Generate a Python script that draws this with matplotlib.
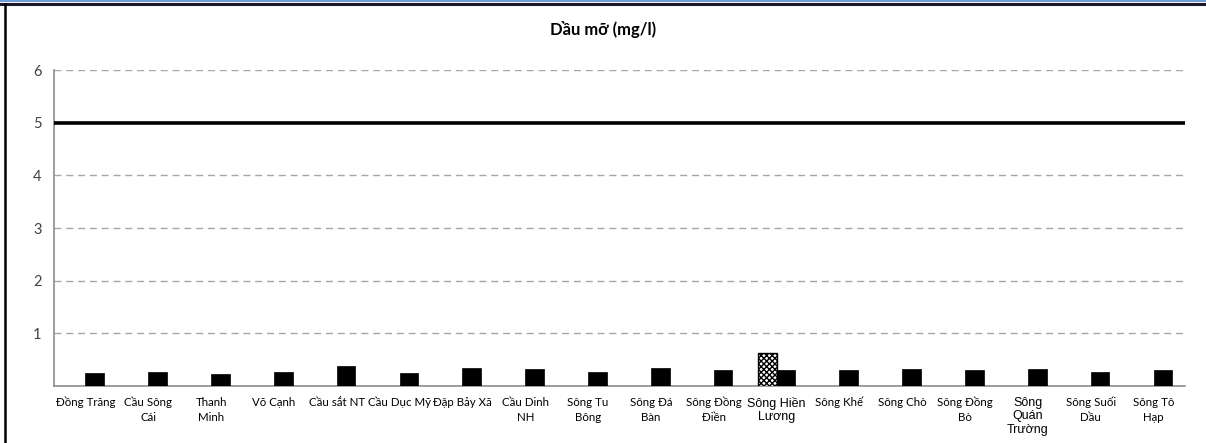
import matplotlib
matplotlib.use("Agg")
import matplotlib.pyplot as plt
import numpy as np
from matplotlib.lines import Line2D

categories = ["Đồng Trăng", "Cầu Sông\nCái", "Thanh\nMinh", "Võ Cạnh", "Cầu sắt NT",
              "Cầu Dục Mỹ", "Đập Bảy Xã", "Cầu Dinh\nNH", "Sông Tu\nBông", "Sông Đá\nBàn",
              "Sông Đồng\nĐiền", "Sông Hiền\nLương", "Sông Khế", "Sông Chò", "Sông Đồng\nBò",
              "Sông\nQuán\nTrường", "Sông Suối\nDầu", "Sông Tô\nHạp"]
series_hatched = [None, None, None, None, None, None, None, None, None, None,
                  None, 0.63, None, None, None, None, None, None]
series_black = [0.24, 0.26, 0.22, 0.26, 0.37, 0.24, 0.34, 0.32, 0.27, 0.34,
                0.29, 0.29, 0.29, 0.32, 0.30, 0.32, 0.27, 0.30]
limit_value = 5
yticks = [1, 2, 3, 4, 5, 6]
title = "Dầu mỡ (mg/l)"

W, H = 1206, 443
fig = plt.figure(figsize=(W / 100, H / 100), dpi=100)

# frame decorations
fig.add_artist(Line2D([0, 1], [1 - 1.0 / H, 1 - 1.0 / H], color="#6f9fd8", lw=1.5, transform=fig.transFigure))
fig.add_artist(Line2D([0, 1], [1 - 4.0 / H, 1 - 4.0 / H], color="#1a1a2a", lw=2.2, transform=fig.transFigure))
fig.add_artist(Line2D([4.5 / W, 4.5 / W], [0, 1 - 4.0 / H], color="black", lw=1.8, transform=fig.transFigure))

left, right = 54, 1185
bottom, top = 443 - 385.7, 443 - 70.3
ax = fig.add_axes([left / W, bottom / H, (right - left) / W, (top - bottom) / H])

n = len(categories)
x = np.arange(n)
w = 0.296
hv = np.array([np.nan if v is None else v for v in series_hatched], dtype=float)
ax.bar(x - w / 2, hv, width=w, color="white", edgecolor="black",
       hatch="xxxxxx", linewidth=1.0, zorder=3)
ax.bar(x + w / 2, series_black, width=w, color="black", edgecolor="black", linewidth=0.5, zorder=3)
ax.axhline(limit_value, color="black", lw=2.6, zorder=4)

ax.set_xlim(-0.5, n - 0.5)
ax.set_ylim(0, 6)
ax.set_yticks(yticks)
ax.yaxis.grid(True, linestyle=(0, (5, 3.5)), color="#a6a6a6", lw=1.0)
ax.set_axisbelow(True)
for s in ["top", "right"]:
    ax.spines[s].set_visible(False)
ax.spines["left"].set_color("#8c8c8c")
ax.spines["bottom"].set_color("#8c8c8c")
ax.spines["left"].set_linewidth(1.2)
ax.spines["bottom"].set_linewidth(1.2)
ax.tick_params(axis="y", length=0, pad=9, labelsize=10.5, labelcolor="#404040")
ax.tick_params(axis="x", length=0, pad=8)
ax.set_xticks(x)
ax.set_xticklabels(categories, fontsize=8.3, family="Lato", color="black", linespacing=1.45)
for lbl in ax.get_xticklabels():
    t = lbl.get_text()
    if "Hiền" in t or "Quán" in t:
        lbl.set_family("Liberation Sans")
        lbl.set_fontsize(9)
        lbl.set_linespacing(1.15)
for lbl in ax.get_yticklabels():
    lbl.set_family("Lato")

fig.text(603 / W, 1 - 30 / H, title, ha="center", va="center", fontsize=12,
         fontweight="bold", family="Lato")

fig.savefig("out.png", dpi=100)
